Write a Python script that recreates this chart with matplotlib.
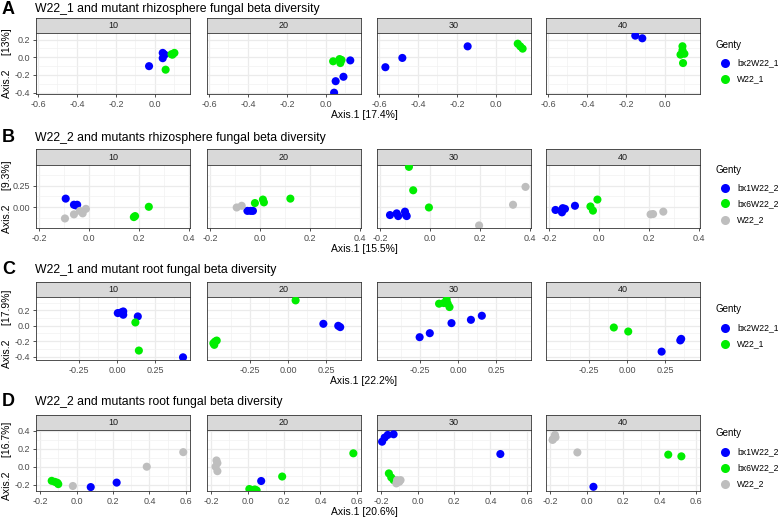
import numpy as np
import matplotlib
matplotlib.use("Agg")
import matplotlib.pyplot as plt
from matplotlib.lines import Line2D
from matplotlib.ticker import FixedLocator, FormatStrFormatter

plt.rcParams["font.family"] = ["Liberation Sans", "DejaVu Sans"]

W, H = 778, 518
FACETS = [10, 20, 30, 40]

# colours per genotype
COL = {"bx2W22_1": "#0000FF", "bx1W22_2": "#0000FF",
       "W22_1": "#00EE00", "bx6W22_2": "#00EE00",
       "W22_2": "#BEBEBE"}

# ---- row A: W22_1 rhizosphere ----
A_bx2 = {10: ([-0.03, 0.04, 0.05, 0.04], [-0.10, 0.05, 0.03, -0.01]),
         20: ([0.125, 0.09, 0.05, 0.042], [-0.035, -0.22, -0.27, -0.40]),
         30: ([-0.567, -0.48, -0.145], [-0.112, -0.007, 0.124]),
         40: ([-0.152, -0.116], [0.245, 0.215])}
A_w22 = {10: ([0.055, 0.09, 0.10, 0.085], [-0.14, 0.03, 0.05, 0.035]),
         20: ([0.037, 0.07, 0.074, 0.08], [-0.045, -0.02, -0.065, -0.03]),
         30: ([0.112, 0.125, 0.137], [0.154, 0.124, 0.098]),
         40: ([0.09, 0.09, 0.08, 0.10, 0.093], [0.125, 0.08, 0.03, 0.04, -0.065])}

# ---- row B: W22_2 rhizosphere ----
B_bx1 = {10: ([-0.093, -0.06, -0.047, -0.052], [0.10, 0.028, 0.028, 0.02]),
         20: ([-0.05, -0.037, -0.028], [-0.044, -0.044, -0.044]),
         30: ([-0.16, -0.133, -0.127, -0.10, -0.096, -0.093],
              [-0.093, -0.073, -0.105, -0.053, -0.093, -0.105]),
         40: ([-0.174, -0.148, -0.145, -0.136, -0.148, -0.096],
              [-0.033, -0.041, -0.012, -0.02, -0.061, 0.016])}
B_bx6 = {10: ([0.18, 0.185, 0.24], [-0.117, -0.105, 0.004]),
         20: ([-0.02, 0.012, 0.016, 0.122], [0.048, 0.089, 0.056, 0.10]),
         30: ([-0.084, -0.067, -0.004], [0.473, 0.198, -0.004]),
         40: ([-0.034, -0.006, -0.024], [0.008, 0.089, -0.041])}
B_w22 = {10: ([-0.096, -0.06, -0.025, -0.012, -0.036],
              [-0.133, -0.085, -0.073, -0.02, -0.044]),
         20: ([-0.093, -0.073], [-0.004, 0.016]),
         30: ([0.383, 0.333, 0.197], [0.238, 0.028, -0.215]),
         40: ([0.207, 0.217, 0.258], [-0.085, -0.081, -0.053])}

# ---- row C: W22_1 root ----
C_bx2 = {10: ([0.004, 0.026, 0.04, 0.04, 0.033, 0.136, 0.434],
              [0.166, 0.174, 0.187, 0.144, 0.166, 0.122, -0.41]),
         20: ([0.232, 0.33, 0.343], [0.026, 0.0, -0.017]),
         30: ([-0.254, -0.187, -0.044, 0.084, 0.156],
              [-0.148, -0.096, 0.035, 0.078, 0.131]),
         40: ([0.356, 0.35, 0.227], [-0.17, -0.19, -0.336])}
C_w22 = {10: ([0.12, 0.143], [0.044, -0.322]),
         20: ([0.049, -0.493, -0.482, -0.471, -0.487],
              [0.331, -0.227, -0.205, -0.192, -0.248]),
         30: ([-0.126, -0.095, -0.076, -0.069, -0.057],
              [0.288, 0.296, 0.34, 0.288, 0.244]),
         40: ([-0.088, 0.007], [-0.022, -0.074])}

# ---- row D: W22_2 root ----
D_bx1 = {10: ([0.078, 0.22], [-0.228, -0.178]),
         20: ([0.075], [-0.16]),
         30: ([-0.194, -0.18, -0.163, -0.131, 0.454],
              [0.28, 0.326, 0.356, 0.363, 0.142]),
         40: ([0.038], [-0.225])}
D_bx6 = {10: ([-0.136, -0.118, -0.105, -0.10], [-0.158, -0.17, -0.18, -0.195]),
         20: ([0.01, 0.02, 0.04, 0.05, 0.19, 0.58],
              [-0.25, -0.26, -0.255, -0.265, -0.11, 0.15]),
         30: ([-0.157, -0.144, -0.131], [-0.075, -0.12, -0.15]),
         40: ([0.448, 0.52], [0.135, 0.116])}
D_w22 = {10: ([-0.02, 0.385, 0.585], [-0.216, 0.0, 0.163]),
         20: ([-0.17, -0.165, -0.175, -0.165], [0.07, 0.04, 0.0, -0.05]),
         30: ([-0.112, -0.10, -0.116, -0.093], [-0.15, -0.169, -0.187, -0.15]),
         40: ([-0.183, -0.173, -0.17, -0.186, -0.05], [0.31, 0.356, 0.33, 0.3, 0.16])}

ROWS = [
    dict(letter="A", title="W22_1 and mutant rhizosphere fungal beta diversity",
         series=[("bx2W22_1", A_bx2), ("W22_1", A_w22)],
         xlabel="Axis.1 [17.4%]", ylabel="Axis.2     [13%]",
         xlim=(-0.61, 0.18), ylim=(-0.415, 0.275),
         xt=[-0.6, -0.4, -0.2, 0.0], yt=[-0.4, -0.2, 0.0, 0.2], xf="%.1f", yf="%.1f",
         head=9, top=33, bot=94),
    dict(letter="B", title="W22_2 and mutants rhizosphere fungal beta diversity",
         series=[("bx1W22_2", B_bx1), ("bx6W22_2", B_bx6), ("W22_2", B_w22)],
         xlabel="Axis.1 [15.5%]", ylabel="Axis.2     [9.3%]",
         xlim=(-0.212, 0.405), ylim=(-0.245, 0.495),
         xt=[-0.2, 0.0, 0.2, 0.4], yt=[0.0, 0.25], xf="%.1f", yf="%.2f",
         head=138, top=165, bot=228),
    dict(letter="C", title="W22_1 and mutant root fungal beta diversity",
         series=[("bx2W22_1", C_bx2), ("W22_1", C_w22)],
         xlabel="Axis.1 [22.2%]", ylabel="Axis.2     [17.9%]",
         xlim=(-0.535, 0.48), ylim=(-0.445, 0.375),
         xt=[-0.25, 0.0, 0.25], yt=[-0.4, -0.2, 0.0, 0.2], xf="%.2f", yf="%.1f",
         head=270, top=297, bot=360),
    dict(letter="D", title="W22_2 and mutants root fungal beta diversity",
         series=[("bx1W22_2", D_bx1), ("bx6W22_2", D_bx6), ("W22_2", D_w22)],
         xlabel="Axis.1 [20.6%]", ylabel="Axis.2     [16.7%]",
         xlim=(-0.222, 0.622), ylim=(-0.272, 0.411),
         xt=[-0.2, 0.0, 0.2, 0.4, 0.6], yt=[-0.2, 0.0, 0.2, 0.4], xf="%.1f", yf="%.1f",
         head=402, top=430, bot=491),
]

PANEL_X = [(36, 190), (207, 361), (377, 531), (546, 700)]
STRIP_H = 15.5


def box(x0, y0, x1, y1):
    return [x0 / W, 1 - y1 / H, (x1 - x0) / W, (y1 - y0) / H]


def minors(t):
    t = np.asarray(t)
    step = t[1] - t[0]
    return np.concatenate([[t[0] - step / 2], (t[:-1] + t[1:]) / 2, [t[-1] + step / 2]])


fig = plt.figure(figsize=(W / 100, H / 100), dpi=100)

for row in ROWS:
    top, bot = row["top"], row["bot"]
    # titles
    fig.text(2 / W, 1 - row["head"] / H, row["letter"], fontsize=13, fontweight="bold",
             va="center", ha="left")
    fig.text(35 / W, 1 - row["head"] / H, row["title"], fontsize=8.8, va="center", ha="left")
    for j, (fac, (x0, x1)) in enumerate(zip(FACETS, PANEL_X)):
        # strip
        sa = fig.add_axes(box(x0, top - STRIP_H, x1, top))
        sa.set_facecolor("#D9D9D9")
        sa.set_xticks([]); sa.set_yticks([])
        for s in sa.spines.values():
            s.set_color("#333333"); s.set_linewidth(0.6)
        sa.text(0.5, 0.5, str(fac), ha="center", va="center", fontsize=6.5, color="#1A1A1A",
                transform=sa.transAxes)
        # panel
        ax = fig.add_axes(box(x0, top, x1, bot))
        ax.set_xlim(*row["xlim"]); ax.set_ylim(*row["ylim"])
        ax.xaxis.set_major_locator(FixedLocator(row["xt"]))
        ax.yaxis.set_major_locator(FixedLocator(row["yt"]))
        ax.xaxis.set_minor_locator(FixedLocator(minors(row["xt"])))
        ax.yaxis.set_minor_locator(FixedLocator(minors(row["yt"])))
        ax.xaxis.set_major_formatter(FormatStrFormatter(row["xf"]))
        ax.yaxis.set_major_formatter(FormatStrFormatter(row["yf"]))
        ax.grid(which="major", color="#EBEBEB", lw=0.9)
        ax.grid(which="minor", color="#F2F2F2", lw=0.5)
        ax.set_axisbelow(True)
        ax.tick_params(which="minor", length=0)
        ax.tick_params(which="major", length=2.5, width=0.6, color="#333333",
                       labelsize=6.5, labelcolor="#4D4D4D", pad=1.5)
        for s in ax.spines.values():
            s.set_color("#333333"); s.set_linewidth(0.6)
        if j > 0:
            ax.tick_params(axis="y", length=0, labelleft=False)
        for name, d in row["series"]:
            xs, ys = d[fac]
            ax.scatter(xs, ys, s=34, color=COL[name], edgecolors="none", zorder=3)
    # axis labels
    fig.text(364 / W, 1 - (bot + 21) / H, row["xlabel"], fontsize=7.5, ha="center", va="center")
    fig.text(7 / W, 1 - ((top + bot) / 2) / H, row["ylabel"], fontsize=7.5, rotation=90,
             ha="center", va="center")
    # legend
    n = len(row["series"])
    ly = (top + bot) / 2 - (n * 16 + 18) / 2
    fig.text(716 / W, 1 - (ly + 6) / H, "Genty", fontsize=7, ha="left", va="center")
    for k, (name, _) in enumerate(row["series"]):
        yy = ly + 24 + 16 * k
        fig.text(737 / W, 1 - yy / H, name, fontsize=6.2, ha="left", va="center")
        fig.add_artist(Line2D([725 / W], [1 - yy / H], marker="o", markersize=6.5,
                              color=COL[name], markeredgewidth=0, linestyle="none",
                              transform=fig.transFigure))

fig.savefig("out.png", dpi=100)
